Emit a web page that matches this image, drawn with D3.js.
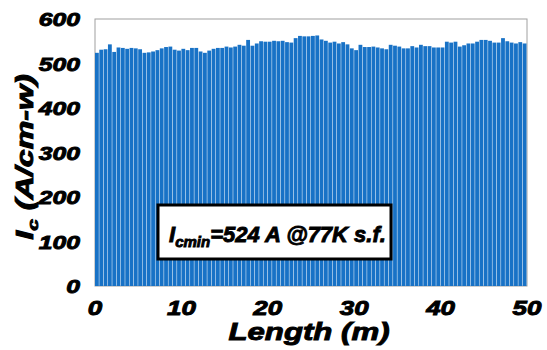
<!DOCTYPE html>
<html lang="en">
<head>
<meta charset="UTF-8">
<title>Ic vs length</title>
<script src="https://d3js.org/d3.v7.min.js"></script>
<style>
  body { margin: 0; background: #fff; }
  text { font-family: "Liberation Sans", Arial, sans-serif; font-weight: bold; font-style: italic;
         fill: #000; stroke: #000; stroke-width: 0.9px; }
</style>
</head>
<body>
<div id="chart"></div>
<script>
// Ic measured every 0.5 m along the tape
var positions = d3.range(100).map(function(i) { return i * 0.5; });
var icValues = [
  524, 531, 532, 543, 526, 536, 535, 533, 535, 534,
  532, 524, 525, 527, 530, 534, 537, 538, 531, 529,
  533, 530, 535, 535, 527, 524, 529, 533, 535, 535,
  538, 536, 538, 542, 540, 553, 540, 545, 550, 549,
  549, 551, 550, 551, 548, 547, 557, 562, 561, 561,
  562, 563, 554, 551, 547, 549, 545, 548, 543, 534,
  530, 542, 537, 537, 538, 536, 534, 532, 542, 540,
  538, 534, 534, 539, 536, 542, 539, 539, 536, 536,
  536, 549, 547, 549, 538, 541, 545, 545, 549, 553,
  553, 551, 547, 547, 557, 550, 547, 545, 548, 545
];
var xTicks = [0, 10, 20, 30, 40, 50];
var yTicks = [0, 100, 200, 300, 400, 500, 600];

var width = 547, height = 350;
var margin = {left: 95, right: 20, top: 19, bottom: 64};

var svg = d3.select("#chart").append("svg")
  .attr("width", width)
  .attr("height", height);

var x = d3.scaleLinear().domain([0, 50]).range([margin.left, width - margin.right]);
var y = d3.scaleLinear().domain([0, 600]).range([height - margin.bottom, margin.top]);
var step = x(0.5) - x(0);

// wide heavy text (stretched horizontally)
function wideText(tx, ty, sx, size, anchor, rot) {
  var g = svg.append("g")
    .attr("transform", "translate(" + tx + "," + ty + ")" + (rot ? " rotate(" + rot + ")" : "") + " scale(" + sx + ",1)");
  return g.append("text")
    .attr("text-anchor", anchor)
    .style("font-size", size + "px");
}

// plot frame
svg.append("rect")
  .attr("x", x(0)).attr("y", y(600))
  .attr("width", x(50) - x(0)).attr("height", y(0) - y(600))
  .attr("fill", "none").attr("stroke", "#a0a0a0").attr("stroke-width", 1);

svg.selectAll("rect.bar")
  .data(icValues)
  .enter()
  .append("rect")
  .attr("class", "bar")
  .attr("x", function(d, i) { return x(positions[i]); })
  .attr("y", function(d) { return y(d); })
  .attr("width", step - 0.5)
  .attr("height", function(d) { return y(0) - y(d); })
  .attr("fill", "#1872c6");

// tick labels
yTicks.forEach(function(t) {
  wideText(80, y(t) + 7, 1.3, 19, "end").text(t);
});
xTicks.forEach(function(t) {
  wideText(x(t), 315, 1.3, 20, "middle").text(t);
});

// axis titles
wideText(309, 340, 1.3, 24, "middle").text("Length (m)");

var yt = wideText(33, 157, 1.4, 23, "middle", -90);
yt.append("tspan").text("I");
yt.append("tspan").attr("dy", 5).style("font-size", "15px").text("c");
yt.append("tspan").attr("dy", -5).text(" (A/cm-w)");

// annotation box
svg.append("rect")
  .attr("x", 158).attr("y", 205)
  .attr("width", 233).attr("height", 54)
  .attr("fill", "#fff").attr("stroke", "#000").attr("stroke-width", 3);

var ann = wideText(169, 242, 1.0, 22, "start");
ann.append("tspan").text("I");
ann.append("tspan").attr("dy", 5).style("font-size", "15px").text("cmin");
ann.append("tspan").attr("dy", -5).text("=524 A @77K s.f.");
</script>
</body>
</html>
